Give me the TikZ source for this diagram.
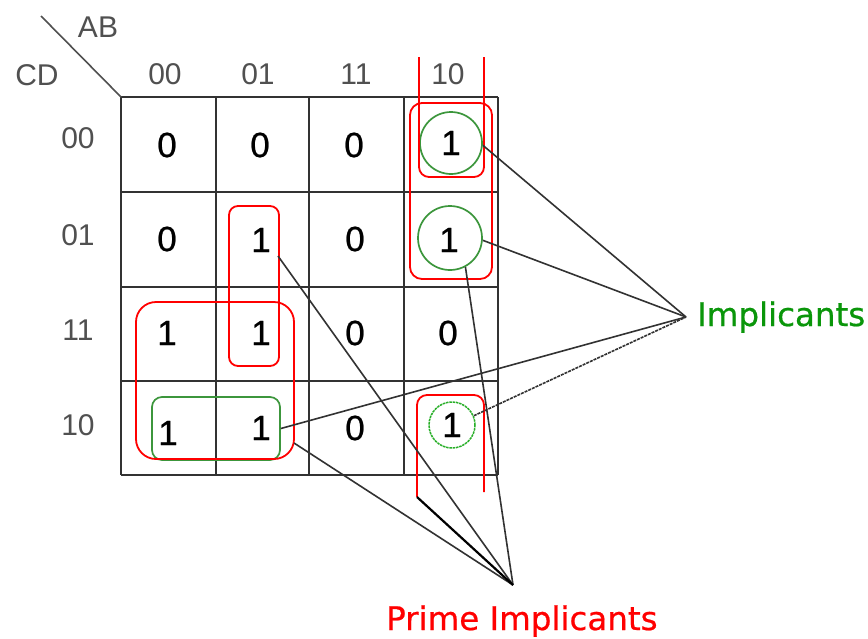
\documentclass[tikz,border=0pt]{standalone}
\usepackage{fontspec}
\setmainfont{Liberation Sans}
\newfontfamily\digitfont[FakeBold=0.7]{Liberation Sans}
\newfontfamily\labelfont[FakeBold=0.6]{DejaVu Sans}
\definecolor{loopgreen}{RGB}{60,150,60}
\definecolor{mingreen}{RGB}{40,175,40}
\definecolor{impgreen}{RGB}{10,150,10}
\definecolor{gridgray}{RGB}{50,50,50}
\definecolor{hdrgray}{RGB}{80,80,80}
\begin{document}
\begin{tikzpicture}[x=1pt,y=-1pt,
  gridline/.style={draw=gridgray, line width=2.3pt},
  hdr/.style={text=hdrgray, font=\fontsize{30}{30}\selectfont, inner sep=0pt},
  val/.style={text=black, font=\digitfont\fontsize{35}{35}\selectfont, inner sep=0pt},
  redloop/.style={draw=red, line width=1.8pt},
  greenloop/.style={draw=loopgreen, line width=1.7pt},
  leader/.style={draw=gridgray, line width=1.6pt},
  tag/.style={anchor=base west, inner sep=0pt, font=\labelfont\fontsize{32.5}{32.5}\selectfont}
]
\useasboundingbox (0,0) rectangle (868,638);
\fill[white] (0,0) rectangle (868,638);

% Karnaugh map grid
\foreach \x in {121,216,309,404,498} \draw[gridline] (\x,97) -- (\x,475);
\foreach \y in {97,192,287,381,475} \draw[gridline] (121,\y) -- (498,\y);
\draw[draw=hdrgray, line width=1.6pt] (41,16) -- (121,97);

% variable names and Gray-code headings
\node[hdr] (ab) at (98,27) {AB};
\node[hdr] (cd) at (37,75) {CD};
\node[hdr] (col00) at (165,74) {00};
\node[hdr] (col01) at (258,74) {01};
\node[hdr] (col11) at (356,74) {11};
\node[hdr] (col10) at (448,74) {10};
\node[hdr] (row00) at (78,138) {00};
\node[hdr] (row01) at (78,235) {01};
\node[hdr] (row11) at (78,330) {11};
\node[hdr] (row10) at (78,425) {10};

% cell values
\node[val] (m00-00) at (167,145) {0};
\node[val] (m00-01) at (260,145) {0};
\node[val] (m00-11) at (354,145) {0};
\node[val] (m00-10) at (451,143) {1};
\node[val] (m01-00) at (167,239) {0};
\node[val] (m01-01) at (261,240) {1};
\node[val] (m01-11) at (355,239) {0};
\node[val] (m01-10) at (449,240) {1};
\node[val] (m11-00) at (167,333) {1};
\node[val] (m11-01) at (261,333) {1};
\node[val] (m11-11) at (355,333) {0};
\node[val] (m11-10) at (448,333) {0};
\node[val] (m10-00) at (168,433) {1};
\node[val] (m10-01) at (261,428) {1};
\node[val] (m10-11) at (355,428) {0};
\node[val] (m10-10) at (452,425) {1};

% implicant groupings
\node[greenloop, circle, minimum size=62, inner sep=0pt] (g1) at (451,143) {};
\node[greenloop, circle, minimum size=64, inner sep=0pt] (g2) at (450,238) {};
\node[draw=mingreen, line width=1.5pt, dash pattern=on 2.5pt off 0.8pt,
      circle, minimum size=46, inner sep=0pt] (g3) at (452,425) {};
\node[greenloop, rounded corners=10, minimum width=128, minimum height=63,
      inner sep=0pt] (pair) at (216,428.5) {};

% prime implicant groupings
\draw[redloop, rounded corners=12] (410,103) rectangle (492,279);
\draw[redloop, rounded corners=10] (419,57) -- (419,177) -- (484,177) -- (484,57);
\draw[redloop, rounded corners=10] (417,497) -- (417,395) -- (484,395) -- (484,492);
\draw[redloop, rounded corners=9] (229,206) rectangle (279,366);
\draw[redloop, rounded corners=20] (136,302) rectangle (294,459);

% labels
\node[tag, text=impgreen] (impl) at (697,326) {Implicants};
\node[tag, text=red] (prime) at (386,630) {Prime Implicants};
\coordinate (impTip) at (686,317);
\coordinate (primeTip) at (513,585);

% leader end points on the prime loops
\coordinate (pcol) at (278,256);
\coordinate (pquad) at (294,443);
\coordinate (pwrap) at (417,497);

% leaders to "Implicants"
\draw[leader] (g1.-4) -- (impTip);
\draw[leader] (g2.-4) -- (impTip);
\draw[leader] (pair.east) -- (impTip);
\draw[leader, dash pattern=on 3pt off 1pt] (g3.23) -- (impTip);

% leaders to "Prime Implicants"
\draw[leader] (pcol) -- (primeTip);
\draw[leader] (pquad) -- (primeTip);
\draw[leader] (g2.-62) -- (primeTip);
\draw[leader, draw=black, line width=2.2pt] (pwrap) -- (primeTip);
\end{tikzpicture}
\end{document}
